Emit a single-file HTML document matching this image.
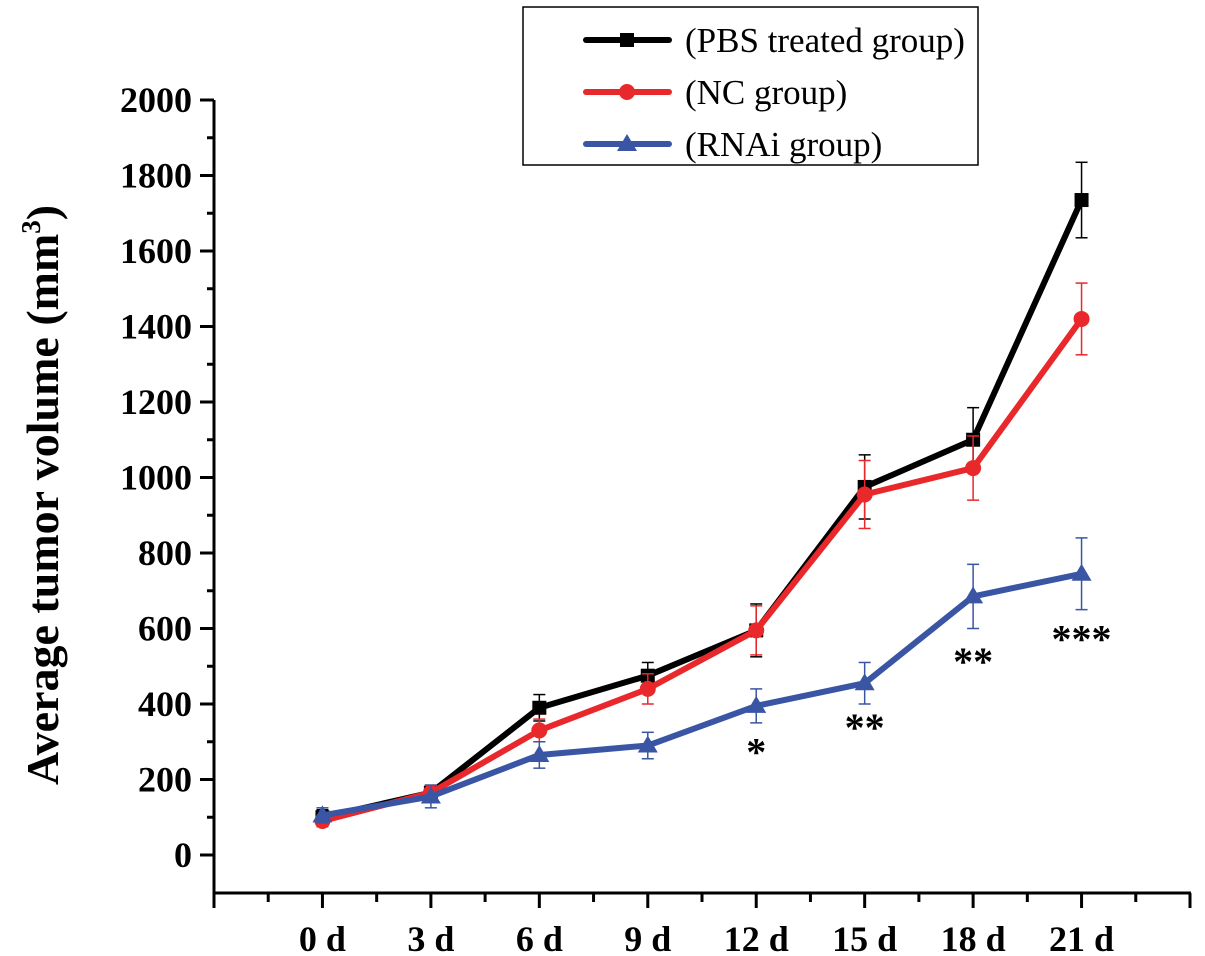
<!DOCTYPE html>
<html><head><meta charset="utf-8"><style>
body{margin:0;background:#fff}
svg{display:block;font-family:"Liberation Serif",serif}
</style></head><body>
<svg id="c" width="1205" height="956" viewBox="0 0 1205 956">
<g id="axes"></g><g id="plot"></g>
<text transform="translate(58,495) rotate(-90)" text-anchor="middle" font-size="46" font-weight="bold">Average tumor volume (mm<tspan font-size="27" dy="-18">3</tspan><tspan dy="18">)</tspan></text>
<g>
<rect x="523" y="7" width="455" height="158" fill="#fff" stroke="#000" stroke-width="1.5"/>
</g>
</svg>
<script>
const categories=["0 d","3 d","6 d","9 d","12 d","15 d","18 d","21 d"];
const days=[0,3,6,9,12,15,18,21];
const pbs=[100,165,390,475,595,975,1100,1735];
const pbsErr=[20,20,35,35,70,85,85,100];
const nc=[90,165,330,440,595,955,1025,1420];
const ncErr=[15,20,30,40,65,90,85,95];
const rnai=[105,155,265,290,395,455,685,745];
const rnaiErr=[20,30,35,35,45,55,85,95];
const yTicks=[0,200,400,600,800,1000,1200,1400,1600,1800,2000];
const stars=["","","","","*","**","**","***"];
const starY=[0,0,0,0,290,355,530,590];
const seriesNames=["(PBS treated group)","(NC group)","(RNAi group)"];
const NS="http://www.w3.org/2000/svg";
const x=d=>214+(d+3)*(1190-214)/27;
const y=v=>855-v*(855-100)/2000;
function el(t,a,p){const e=document.createElementNS(NS,t);for(const k in a)e.setAttribute(k,a[k]);p.appendChild(e);return e;}
const ax=document.getElementById('axes'),pl=document.getElementById('plot'),svg=document.getElementById('c');
let e=el('line',{x1:214,y1:100,x2:214,y2:894,stroke:'#000','stroke-width':3},ax);

e=el('line',{x1:213,y1:893,x2:1191,y2:893,stroke:'#000','stroke-width':3},ax);

yTicks.forEach(v=>{
 el('line',{x1:200,y1:y(v),x2:214,y2:y(v),stroke:'#000','stroke-width':3},ax);
 if(v<2000) el('line',{x1:207,y1:y(v+100),x2:214,y2:y(v+100),stroke:'#000','stroke-width':3},ax);
 const t=el('text',{x:192,y:y(v)+12,'text-anchor':'end','font-size':36,'font-weight':'bold'},ax);t.textContent=v;
 
});
for(let d=-3;d<=24;d+=1.5){const maj=(d%3===0);el('line',{x1:x(d),y1:893,x2:x(d),y2:maj?908:902,stroke:'#000','stroke-width':3},ax);}
categories.forEach((c,i)=>{const t=el('text',{x:x(days[i]),y:951,'text-anchor':'middle','font-size':36,'font-weight':'bold'},ax);t.textContent=c;
 });
const S=[[pbs,pbsErr,'#000','sq'],[nc,ncErr,'#e8282b','ci'],[rnai,rnaiErr,'#3a55a4','tr']];
function marker(sh,cx,cy,col,p){
 if(sh==='sq')return el('rect',{x:cx-7,y:cy-7,width:14,height:14,fill:col},p);
 if(sh==='ci')return el('circle',{cx,cy,r:8,fill:col},p);
 return el('polygon',{points:`${cx},${cy-10} ${cx+10},${cy+7} ${cx-10},${cy+7}`,fill:col},p);
}
S.forEach(([v,er,col,sh],si)=>{
 const g=el('g',{},pl);
 v.forEach((val,i)=>{const X=x(days[i]);
  el('line',{x1:X,y1:y(val-er[i]),x2:X,y2:y(val+er[i]),stroke:col,'stroke-width':1.5},g);
  el('line',{x1:X-6,y1:y(val+er[i]),x2:X+6,y2:y(val+er[i]),stroke:col,'stroke-width':1.5},g);
  el('line',{x1:X-6,y1:y(val-er[i]),x2:X+6,y2:y(val-er[i]),stroke:col,'stroke-width':1.5},g);});
 el('polyline',{points:v.map((val,i)=>x(days[i])+','+y(val)).join(' '),fill:'none',stroke:col,'stroke-width':6,'stroke-linejoin':'round'},g);
 v.forEach((val,i)=>{const m=marker(sh,x(days[i]),y(val),col,g);});
 const lg=el('g',{},svg);
 const ly=40+si*52;
 el('line',{x1:586,y1:ly,x2:669,y2:ly,stroke:col,'stroke-width':6,'stroke-linecap':'round'},lg);
 marker(sh,627,ly,col,lg);
 const t=el('text',{x:685,y:ly+12,'font-size':35},lg);t.textContent=seriesNames[si];
});
stars.forEach((s,i)=>{if(!s)return;const t=el('text',{x:x(days[i]),y:y(starY[i])+20,'text-anchor':'middle','font-size':40,'font-weight':'bold'},pl);t.textContent=s;
 });
</script>
</body></html>
